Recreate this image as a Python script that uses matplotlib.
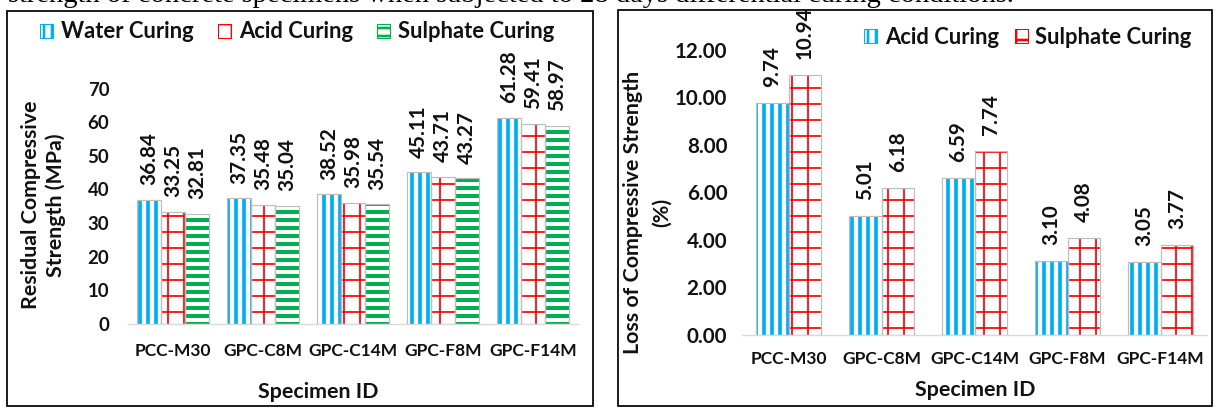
import matplotlib
matplotlib.use('Agg')
import matplotlib.pyplot as plt
from matplotlib.patches import Rectangle
import numpy as np

# ---------------- data ----------------
categories = ['PCC-M30', 'GPC-C8M', 'GPC-C14M', 'GPC-F8M', 'GPC-F14M']
water_curing = [36.84, 37.35, 38.52, 45.11, 61.28]
acid_curing = [33.25, 35.48, 35.98, 43.71, 59.41]
sulphate_curing = [32.81, 35.04, 35.54, 43.27, 58.97]
loss_acid = [9.74, 5.01, 6.59, 3.10, 3.05]
loss_sulphate = [10.94, 6.18, 7.74, 4.08, 3.77]
left_yticks = [0, 10, 20, 30, 40, 50, 60, 70]
right_yticks = [0, 2, 4, 6, 8, 10, 12]
caption = "strength of concrete specimens when subjected to 28 days differential curing conditions."

# ---------------- style ----------------
W, H, DPI = 1217, 408, 96
plt.rcParams['font.family'] = ['Lato', 'DejaVu Sans']
plt.rcParams['font.weight'] = 'bold'
plt.rcParams['hatch.linewidth'] = 2.0

BLUE, RED, GREEN = '#00B0F0', '#FF0000', '#00B050'
TXT = '#111111'

fig = plt.figure(figsize=(W / DPI, H / DPI), dpi=DPI)


def fx(x):
    return x / W


def fy(y):
    return 1 - y / H


def set_hlw(patch, hlw):
    if hasattr(patch, 'set_hatch_linewidth'):
        patch.set_hatch_linewidth(hlw)


def hatched_bars(ax, x, vals, width, hatch, color, hlw, label):
    bars = ax.bar(x, vals, width, facecolor='white', edgecolor=color,
                  linewidth=0, hatch=hatch, label=label, zorder=2)
    for b in bars:
        set_hlw(b, hlw)
    ax.bar(x, vals, width, fill=False, edgecolor='#BDBDBD', linewidth=0.9, zorder=3)
    return bars


def legend_proxy(hatch, color, hlw):
    p = Rectangle((0, 0), 1, 1, facecolor='white', edgecolor=color,
                  linewidth=0.8, hatch=hatch)
    set_hlw(p, hlw)
    return p


def value_labels(ax, x, vals, offset_pt):
    for xi, v in zip(x, vals):
        ax.annotate(f'{v:.2f}', (xi, v), xytext=(0, offset_pt),
                    textcoords='offset points', rotation=90, ha='center',
                    va='bottom', fontsize=15.5, fontweight='bold', color=TXT,
                    annotation_clip=False)


def style_axes(ax, ypad, xpad, yfs, xfs):
    for s in ['left', 'top', 'right']:
        ax.spines[s].set_visible(False)
    ax.spines['bottom'].set_color('#D9D9D9')
    ax.spines['bottom'].set_linewidth(1.0)
    ax.tick_params(axis='both', length=0)
    ax.tick_params(axis='y', pad=ypad, labelsize=yfs, labelcolor=TXT)
    ax.tick_params(axis='x', pad=xpad, labelsize=xfs, labelcolor=TXT)
    for lab in ax.get_xticklabels() + ax.get_yticklabels():
        lab.set_fontweight('bold')
    ax.set_facecolor('none')


# ---------------- left chart ----------------
ax1 = fig.add_axes([fx(128), fy(324), (578 - 128) / W, (324 - 88.5) / H])
x = np.arange(len(categories))
w1 = 0.8 / 3
hatched_bars(ax1, x - w1, water_curing, w1, '||', BLUE, 2.8, 'Water Curing')
hatched_bars(ax1, x, acid_curing, w1, '+', RED, 1.3, 'Acid Curing')
hatched_bars(ax1, x + w1, sulphate_curing, w1, '--', GREEN, 3.0, 'Sulphate Curing')
value_labels(ax1, x - w1, water_curing, 11)
value_labels(ax1, x, acid_curing, 11)
value_labels(ax1, x + w1, sulphate_curing, 11)
ax1.set_xlim(-0.5, len(categories) - 0.5)
ax1.set_ylim(0, 70)
ax1.set_yticks(left_yticks)
ax1.set_yticklabels([str(v) for v in left_yticks])
ax1.set_xticks(x)
ax1.set_xticklabels(categories)
style_axes(ax1, 14, 14, 14, 13)

fig.legend([legend_proxy('||', BLUE, 1.8), legend_proxy('+', RED, 1.0),
            legend_proxy('--', GREEN, 2.0)],
           ['Water Curing', 'Acid Curing', 'Sulphate Curing'],
           loc='center', bbox_to_anchor=(fx(297), fy(32)), ncol=3, frameon=False,
           fontsize=16.5, handlelength=0.6, handleheight=0.6, handletextpad=0.35,
           columnspacing=1.1, labelcolor=TXT)

fig.text(fx(318), fy(392), 'Specimen ID', ha='center', va='center',
         fontsize=16, fontweight='bold', color=TXT)
fig.text(fx(43.5), fy(205), 'Residual Compressive\nStrength (MPa)', rotation=90,
         ha='center', va='center', multialignment='center', linespacing=1.25,
         fontsize=16, fontweight='bold', color=TXT)

# ---------------- right chart ----------------
ax2 = fig.add_axes([fx(742), fy(335), (1207 - 742) / W, (335 - 49.5) / H])
w2 = 0.35
hatched_bars(ax2, x - w2 / 2, loss_acid, w2, '||', BLUE, 2.8, 'Acid Curing')
hatched_bars(ax2, x + w2 / 2, loss_sulphate, w2, '+', RED, 1.3, 'Sulphate Curing')
value_labels(ax2, x - w2 / 2, loss_acid, 12)
value_labels(ax2, x + w2 / 2, loss_sulphate, 12)
ax2.set_xlim(-0.5, len(categories) - 0.5)
ax2.set_ylim(0, 12)
ax2.set_yticks(right_yticks)
ax2.set_yticklabels([f'{v:.2f}' for v in right_yticks])
ax2.set_xticks(x)
ax2.set_xticklabels(categories)
style_axes(ax2, 11, 12, 15.5, 13)

fig.legend([legend_proxy('||', BLUE, 1.8), legend_proxy('+', RED, 1.0)],
           ['Acid Curing', 'Sulphate Curing'],
           loc='center', bbox_to_anchor=(fx(1028), fy(37)), ncol=2, frameon=False,
           fontsize=16.5, handlelength=0.6, handleheight=0.6, handletextpad=0.35,
           columnspacing=0.7, labelcolor=TXT)

fig.text(fx(975), fy(390), 'Specimen ID', ha='center', va='center',
         fontsize=16, fontweight='bold', color=TXT)
fig.text(fx(647.5), fy(212), 'Loss of Compressive Strength\n(%)', rotation=90,
         ha='center', va='center', multialignment='center', linespacing=1.5,
         fontsize=16, fontweight='bold', color=TXT)

# ---------------- panel frames ----------------
fig.add_artist(Rectangle((fx(7), fy(406)), (593 - 7) / W, (406 - 11) / H,
                         transform=fig.transFigure, fill=False, ec='black', lw=1.3))
fig.add_artist(Rectangle((fx(618), fy(406)), (1212 - 618) / W, (406 - 10) / H,
                         transform=fig.transFigure, fill=False, ec='black', lw=1.3))

# ---------------- cut-off caption at top ----------------
cap = fig.text(fx(8), fy(1.5), caption, family=['Liberation Serif', 'DejaVu Serif'],
               fontweight='normal', fontsize=20, ha='left', va='baseline', color='black')
fig.canvas.draw()
bb = cap.get_window_extent()
cap.set_fontsize(20 * 1002 / bb.width)

fig.savefig('out.png', dpi=DPI)
